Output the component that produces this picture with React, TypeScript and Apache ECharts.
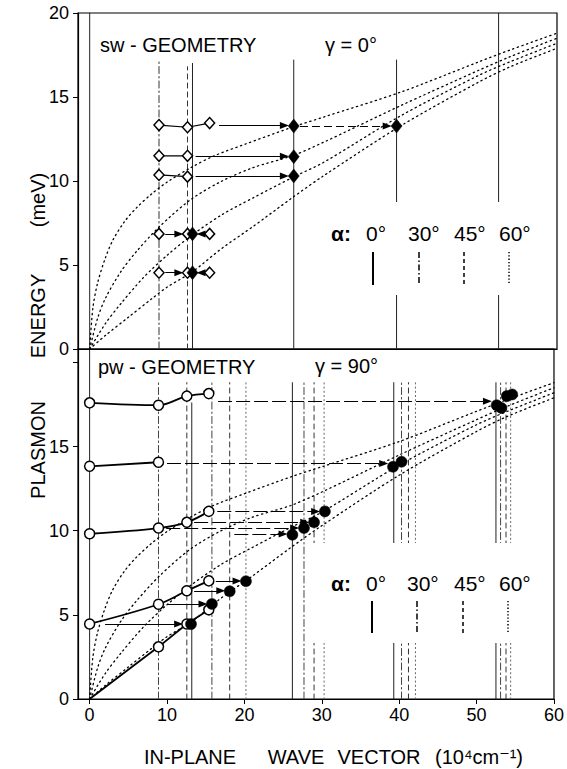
import React, { useEffect, useRef } from "react";
import * as echarts from "echarts";

const FONT = "'Liberation Sans', 'DejaVu Sans', sans-serif";
const XMIN = -1.5;
const XMAX = 60;
const X_TICKS = [0, 10, 20, 30, 40, 50, 60];
const Y_TICKS_BOTTOM = [0, 5, 10, 15, 20];
const Y_LABELS_BOTTOM = [0, 5, 10, 15];

// dotted dispersion curves (same in both panels)
const curve1 = [[0, 0], [0.4, 2.4], [1, 3.9], [2, 5.4], [3, 6.5], [4.5, 7.6], [6, 8.4], [8, 9.25], [10, 9.95], [13, 10.8], [16, 11.5], [20, 12.2], [26, 13.2], [30, 13.8], [40, 15.3], [50, 17.1], [54, 17.8], [60, 18.8]];
const curve2 = [[0, 0], [1, 1.8], [2, 3.0], [4, 4.6], [6, 5.8], [9, 7.3], [13, 8.9], [17, 10.0], [21, 10.8], [26, 11.5], [30, 12.3], [40, 14.5], [50, 16.6], [54, 17.4], [60, 18.5]];
const curve3 = [[0, 0], [2, 1.5], [4, 2.7], [7, 4.3], [10, 5.6], [13.2, 6.8], [17, 8.0], [21, 9.0], [26, 10.2], [30, 11.1], [40, 13.9], [50, 16.3], [54, 17.1], [60, 18.2]];
const curve4 = [[0, 0], [2, 0.8], [5, 1.9], [8, 3.0], [10, 3.7], [13.2, 4.6], [17, 6.0], [21, 7.3], [26, 9.0], [30, 10.3], [40, 13.3], [50, 15.9], [54, 16.8], [60, 17.9]];

// vertical lines: [q, yFrom, yTo]
const topSolidV = [[0, 0, 20], [13.2, 0, 17.0], [26.2, 0, 17.2], [39.4, 0, 17.2], [52.5, 0, 20]];
const topDashDotV = [[8.9, 0, 17.2]];
const topDashedV = [[12.56, 0, 16.8]];
const botSolidV = [[0, 0, 20.8], [13.2, 0, 17.6], [26.2, 0, 18.8], [39.3, 0, 18.8], [52.5, 0, 18.8]];
const botDashDotV = [[8.9, 0, 18.8], [15.8, 0, 18.8], [27.7, 0, 18.8], [40.3, 0, 18.8], [53.1, 0, 18.8]];
const botDashedV = [[12.56, 0, 18.8], [18.1, 0, 18.8], [29.0, 0, 18.8], [41.2, 0, 18.8], [53.8, 0, 18.8]];
const botDottedV = [[20.2, 0, 18.8], [30.3, 0, 18.8], [42.1, 0, 18.8], [54.4, 0, 18.8]];

// sw geometry markers
const swOpen = [[8.9, 13.33], [8.9, 11.5], [8.9, 10.36], [8.9, 6.85], [8.9, 4.54], [12.56, 13.2], [12.56, 11.5], [12.56, 10.26], [12.56, 6.85], [12.56, 4.54], [15.4, 13.45], [15.4, 6.85], [15.4, 4.54]];
const swFilled = [[26.2, 13.27], [26.2, 11.45], [26.2, 10.3], [39.4, 13.27], [13.2, 6.85], [13.2, 4.54]];
const swLinks = [[8.9, 13.33, 12.56, 13.2], [12.56, 13.2, 15.4, 13.45], [8.9, 11.5, 12.56, 11.5], [8.9, 10.36, 12.56, 10.26]];
const swArrows = [[16.6, 25.0, 13.3], [13.6, 25.0, 11.47], [13.6, 25.0, 10.3], [9.7, 11.45, 6.85], [9.7, 11.45, 4.54], [14.8, 14.3, 6.85], [14.8, 14.3, 4.54]];
const swDashArrows = [[27.0, 38.2, 13.27]];

// pw geometry markers
const pwOpen = [[0, 17.6], [8.9, 17.46], [12.56, 18.0], [15.4, 18.15], [0, 13.83], [8.9, 14.07], [0, 9.82], [8.9, 10.16], [12.56, 10.5], [15.4, 11.15], [0, 4.46], [8.9, 5.63], [12.56, 6.43], [15.4, 7.02], [8.9, 3.1], [12.56, 4.46], [15.4, 5.3]];
const pwFilled = [[13.1, 4.45], [15.8, 5.65], [18.1, 6.4], [20.2, 7.0], [26.2, 9.76], [27.7, 10.16], [29.0, 10.5], [30.4, 11.15], [39.2, 13.8], [40.3, 14.1], [52.6, 17.46], [53.2, 17.3], [53.9, 18.0], [54.6, 18.1]];
const pwCurve17 = [[0, 17.6], [8.9, 17.46], [12.56, 18.0], [15.4, 18.15]];
const pwCurve14 = [[0, 13.83], [8.9, 14.07]];
const pwCurve10 = [[0, 9.82], [8.9, 10.16], [12.56, 10.5], [15.4, 11.15]];
const pwCurve5 = [[0, 4.46], [8.9, 5.63], [12.56, 6.43], [15.4, 7.02]];
const pwLine0 = [[0, 0], [8.9, 3.1], [12.56, 4.46], [15.4, 5.3]];
const pwDashArrows = [[16.6, 51.4, 17.7], [10.0, 38.0, 14.0], [16.5, 29.2, 11.15], [13.5, 27.8, 10.5], [9.9, 26.5, 10.16], [18.7, 25.0, 9.8]];
const pwArrows = [[2.0, 11.5, 4.46], [10.1, 14.65, 5.65], [13.5, 16.95, 6.43], [16.3, 19.05, 7.02]];

const alphaLabels = ["0°", "30°", "45°", "60°"];

function vsegs(list: number[][]) {
  const d: any[] = [];
  list.forEach(([x, a, b]) => { d.push([x, a], [x, b], [x, null]); });
  return d;
}
function segs(list: number[][]) {
  const d: any[] = [];
  list.forEach(([x1, y1, x2, y2]) => { d.push([x1, y1], [x2, y2], [x2, null]); });
  return d;
}

const DASHDOT = [7, 3, 1.5, 3];
const DASHED = [5, 4];
const DOTTED = [1.2, 3];
const CURVE_DOT = [1.3, 3.6];

function lineSeries(idx: number, data: any[], type: any, width: number, color: string, z: number, smooth: any = false) {
  return {
    type: "line", xAxisIndex: idx, yAxisIndex: idx, data, symbol: "none", showSymbol: false,
    smooth, connectNulls: false, silent: true, z, animation: false,
    lineStyle: { type, width, color, cap: "round", opacity: 1 },
  };
}
function arrowSeries(idx: number, list: number[][], type: any) {
  return {
    type: "line", xAxisIndex: idx, yAxisIndex: idx, data: [], silent: true, z: 6, animation: false,
    markLine: {
      silent: true, animation: false, symbol: ["none", "triangle"], symbolSize: [7, 9],
      label: { show: false }, emphasis: { disabled: true },
      lineStyle: { color: "#000", width: 1, type, opacity: 1 },
      data: list.map(([x1, x2, y]) => [{ coord: [x1, y] }, { coord: [x2, y] }]),
    },
  };
}
function scatter(idx: number, data: number[][], symbol: string, size: any, open: boolean) {
  return {
    type: "scatter", xAxisIndex: idx, yAxisIndex: idx, data, symbol, symbolSize: size, silent: true, z: 10,
    itemStyle: open
      ? { color: "#fff", borderColor: "#000", borderWidth: 1.5, opacity: 1 }
      : { color: "#000", borderColor: "#000", borderWidth: 0.5, opacity: 1 },
  };
}

function legendGraphics(textY: number, sampleY0: number, sampleY1: number, xs: number[], txs: number[]) {
  const els: any[] = [];
  els.push({ type: "text", x: 331, y: textY, z: 100, style: { text: "α:", fontSize: 21, fontFamily: FONT, fill: "#000", verticalAlign: "middle", align: "left", fontWeight: "bold" } });
  alphaLabels.forEach((t, i) => {
    els.push({ type: "text", x: txs[i], y: textY, z: 100, style: { text: t, fontSize: 21, fontFamily: FONT, fill: "#000", verticalAlign: "middle", align: "left" } });
  });
  const dashes: any[] = [null, [6, 2.5, 1.5, 2.5], [4, 3], [1.3, 2]];
  xs.forEach((x, i) => {
    els.push({
      type: "line", z: 100, shape: { x1: x, y1: sampleY0, x2: x, y2: sampleY1 },
      style: { stroke: "#000", lineWidth: i === 0 ? 2 : 1.5, lineDash: dashes[i] || undefined },
    });
  });
  return els;
}

function buildOption() {
  const series: any[] = [];
  for (const idx of [0, 1]) {
    [curve1, curve2, curve3, curve4].forEach((c) => series.push(lineSeries(idx, c, CURVE_DOT, 1.3, "#000", 3, 0.3)));
  }
  series.push(lineSeries(0, vsegs(topSolidV), "solid", 1, "#222", 2));
  series.push(lineSeries(0, vsegs(topDashDotV), DASHDOT, 1, "#333", 2));
  series.push(lineSeries(0, vsegs(topDashedV), DASHED, 1, "#333", 2));
  series.push(lineSeries(0, segs(swLinks), "solid", 1.2, "#000", 5));
  series.push(arrowSeries(0, swArrows, "solid"));
  series.push(arrowSeries(0, swDashArrows, [8, 4]));
  series.push(scatter(0, swOpen, "diamond", [10, 11], true));
  series.push(scatter(0, swFilled, "diamond", [11, 14], false));

  series.push(lineSeries(1, vsegs(botSolidV), "solid", 1, "#222", 2));
  series.push(lineSeries(1, vsegs(botDashDotV), DASHDOT, 1, "#444", 2));
  series.push(lineSeries(1, vsegs(botDashedV), DASHED, 1, "#333", 2));
  series.push(lineSeries(1, vsegs(botDottedV), DOTTED, 1, "#666", 2));
  [pwCurve17, pwCurve14, pwCurve10, pwCurve5].forEach((c) => series.push(lineSeries(1, c, "solid", 1.8, "#000", 5, 0.35)));
  series.push(lineSeries(1, pwLine0, "solid", 1.8, "#000", 5));
  series.push(arrowSeries(1, pwDashArrows, [14, 4]));
  series.push(arrowSeries(1, pwArrows, "solid"));
  series.push(scatter(1, pwOpen, "circle", 10, true));
  series.push(scatter(1, pwFilled, "circle", 11, false));

  const axisLine = { show: true, onZero: false, lineStyle: { color: "#000", width: 1.2 } };
  const labelStyle = { color: "#000", fontSize: 18, fontFamily: FONT };
  const t = (text: string, x: number, y: number, extra: any = {}) => ({
    type: "text", x, y, z: 100, ...extra,
    style: { text, fontSize: 19, fontFamily: FONT, fill: "#000", align: "center", verticalAlign: "middle", ...(extra.style || {}) },
  });

  const graphic: any[] = [
    // white gaps where the vertical lines are interrupted by the legends
    { type: "rect", z: 50, shape: { x: 335, y: 202, width: 212, height: 93 }, style: { fill: "#fff" } },
    { type: "rect", z: 50, shape: { x: 312, y: 543, width: 236, height: 100 }, style: { fill: "#fff" } },
    t("sw - GEOMETRY", 100, 45, { style: { fontSize: 20, align: "left" } }),
    t("γ = 0°", 325, 45, { style: { fontSize: 20, align: "left" } }),
    t("pw - GEOMETRY", 98, 367, { style: { fontSize: 20, align: "left" } }),
    t("γ = 90°", 315, 366, { style: { fontSize: 20, align: "left" } }),
    ...legendGraphics(233, 252, 285, [373, 419, 464, 509], [366, 408, 454, 499]),
    ...legendGraphics(583, 601, 633, [372, 417, 463, 508], [366, 407, 454, 499]),
    // axis titles
    t("IN-PLANE", 190, 757, { style: { fontSize: 20 } }),
    t("WAVE", 296, 757, { style: { fontSize: 20 } }),
    t("VECTOR", 379, 757, { style: { fontSize: 20 } }),
    t("(10⁴cm⁻¹)", 479, 757, { style: { fontSize: 20 } }),
    t("PLASMON", 38, 450, { rotation: Math.PI / 2, style: { fontSize: 20 } }),
    t("ENERGY", 38, 316, { rotation: Math.PI / 2, style: { fontSize: 20 } }),
    t("(meV)", 38, 200, { rotation: Math.PI / 2, style: { fontSize: 20 } }),
  ];

  return {
    animation: false,
    backgroundColor: "#fff",
    grid: [
      { left: 78, top: 13, width: 479, height: 336, show: true, borderColor: "#000", borderWidth: 1.2 },
      { left: 78, top: 349, width: 479, height: 350, show: true, borderColor: "#000", borderWidth: 1.2 },
    ],
    xAxis: [
      { type: "value", gridIndex: 0, min: XMIN, max: XMAX, axisLine, axisTick: { show: false }, axisLabel: { show: false }, splitLine: { show: false } },
      {
        type: "value", gridIndex: 1, min: XMIN, max: XMAX, axisLine,
        axisTick: { show: true, customValues: X_TICKS, length: 5, lineStyle: { color: "#000" } },
        axisLabel: { ...labelStyle, customValues: X_TICKS, margin: 7 },
        splitLine: { show: false },
      },
    ],
    yAxis: [
      {
        type: "value", gridIndex: 0, min: 0, max: 20, interval: 5, axisLine,
        axisTick: { show: true, length: 5, lineStyle: { color: "#000" } },
        axisLabel: { ...labelStyle, margin: 9 }, splitLine: { show: false },
      },
      {
        type: "value", gridIndex: 1, min: 0, max: 20.8, axisLine,
        axisTick: { show: true, customValues: Y_TICKS_BOTTOM, length: 5, lineStyle: { color: "#000" } },
        axisLabel: { ...labelStyle, customValues: Y_LABELS_BOTTOM, margin: 9 }, splitLine: { show: false },
      },
    ],
    series,
    graphic,
  };
}

export default function App() {
  const ref = useRef<HTMLDivElement>(null);
  useEffect(() => {
    document.body.style.margin = "0";
    const chart = echarts.init(ref.current as HTMLDivElement, null, { renderer: "svg" });
    chart.setOption(buildOption() as any);
    return () => chart.dispose();
  }, []);
  return <div ref={ref} style={{ width: 567, height: 769 }} />;
}
